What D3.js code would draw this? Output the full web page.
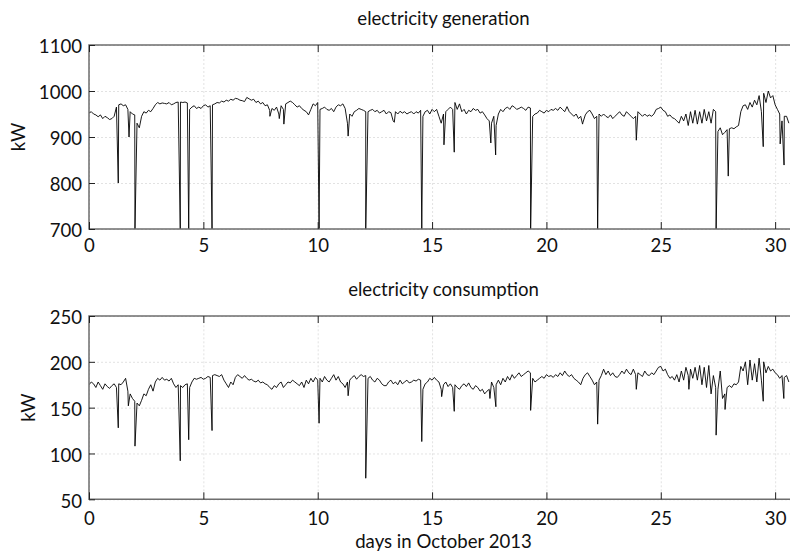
<!DOCTYPE html>
<html>
<head>
<meta charset="utf-8">
<script src="https://cdn.jsdelivr.net/npm/d3@7"></script>
<style>
  body { margin: 0; background: #fff; }
  svg { display: block; }
  text { font-family: Lato, "Open Sans", sans-serif; fill: #111; }
</style>
</head>
<body>
<div id="chart"></div>
<script>
// ! Data (one value every 0.1 day, plus the sharp drops)
var sampleDays = d3.range(0, 307).map(function (i) { return i / 10; });

var generation = [
  952, 955, 950, 948, 944, 948, 940, 945, 942, 938,
  940, 945, 965, 970, 972, 968, 970, 960, 955, 950,
  948, 930, 920, 945, 955, 952, 958, 955, 962, 970,
  975, 972, 974, 973, 972, 975, 970, 972, 975, 976,
  976, 975, 976, 974, 960, 965, 968, 962, 965, 962,
  968, 970, 965, 968, 970, 972, 975, 974, 978, 976,
  980, 978, 982, 980, 984, 983, 980, 979, 977, 986,
  983, 980, 982, 975, 978, 972, 975, 968, 970, 958,
  962, 958, 965, 950, 968, 960, 972, 975, 978, 975,
  970, 965, 968, 962, 958, 955, 948, 960, 972, 968,
  975, 960, 962, 965, 960, 958, 962, 955, 965, 970,
  968, 972, 962, 930, 950, 945, 955, 958, 962, 960,
  958, 955, 955, 958, 960, 955, 958, 952, 955, 958,
  950, 955, 953, 935, 955, 950, 956, 952, 955, 950,
  953, 955, 950, 955, 952, 958, 945, 955, 958, 950,
  960, 955, 960, 945, 930, 950, 955, 960, 965, 960,
  975, 960, 972, 955, 960, 950, 958, 955, 962, 958,
  960, 952, 955, 948, 940, 935, 930, 945, 925, 950,
  960, 955, 962, 965, 960, 968, 965, 960, 962, 965,
  962, 958, 965, 963, 945, 950, 952, 958, 955, 952,
  958, 955, 960, 958, 962, 958, 965, 960, 955, 966,
  955, 950, 945, 950, 940, 945, 932, 948, 955, 958,
  950, 940, 945, 950, 945, 950, 945, 942, 948, 940,
  945, 950, 955, 948, 945, 955, 950, 945, 940, 945,
  955, 950, 945, 950, 945, 948, 945, 950, 960, 962,
  965, 958, 955, 945, 948, 942, 940, 935, 930, 945,
  935, 950, 925, 955, 930, 958, 928, 955, 930, 960,
  935, 955, 930, 960, 955, 912, 920, 905, 910, 916,
  918, 920, 918, 922, 925, 955, 968, 970, 960, 975,
  965, 980, 970, 990, 955, 995, 975, 1000, 985, 990,
  970, 960, 950, 935, 945, 945, 930
];

var generationDropDays = [1.28, 1.75, 2.01, 3.99, 4.36, 5.38, 7.91, 8.32, 8.52, 10.06, 11.33, 12.1,
  13.35, 14.55, 15.52, 15.97, 17.57, 17.78, 19.31, 21.58, 22.24, 23.93, 27.42, 27.95, 29.48, 30.22, 30.39];
var generationDropValues = [800, 900, 700, 700, 700, 700, 945, 940, 928, 700, 902, 700,
  932, 700, 883, 867, 887, 861, 700, 928, 700, 893, 700, 815, 879, 885, 839];

var consumption = [
  175, 178, 176, 172, 178, 174, 170, 176, 173, 171,
  174, 176, 172, 176, 175, 178, 182, 168, 165, 160,
  157, 155, 152, 158, 165, 163, 170, 175, 168, 178,
  182, 180, 183, 180, 181, 179, 182, 176, 172, 175,
  174, 172, 175, 176, 172, 178, 182, 181, 182, 183,
  181, 182, 184, 183, 185, 186, 185, 184, 186, 180,
  176, 172, 178, 175, 183, 186, 184, 182, 185, 182,
  180, 181, 179, 178, 180, 177, 178, 176, 175, 172,
  170, 174, 172, 176, 178, 172, 175, 178, 177, 180,
  178, 176, 174, 178, 172, 180, 176, 182, 178, 183,
  180, 182, 178, 184, 180, 178, 182, 186, 180, 184,
  178, 176, 172, 178, 180, 183, 185, 181, 184, 186,
  184, 185, 182, 184, 180, 178, 182, 180, 176, 174,
  174, 178, 180, 176, 178, 175, 180, 176, 178, 180,
  177, 178, 180, 179, 181, 180, 170, 176, 178, 182,
  180, 183, 180, 178, 170, 175, 178, 173, 176, 172,
  175, 172, 170, 174, 176, 173, 177, 172, 170, 174,
  172, 168, 170, 165, 168, 170, 178, 172, 175, 180,
  175, 182, 178, 184, 180, 186, 182, 185, 188, 184,
  186, 188, 190, 188, 182, 178, 180, 182, 184, 182,
  186, 184, 185, 183, 186, 184, 188, 185, 190, 186,
  184, 186, 182, 180, 178, 175, 182, 186, 188, 184,
  180, 175, 178, 180, 185, 192, 186, 190, 185, 188,
  184, 183, 186, 190, 187, 192, 188, 186, 192, 186,
  188, 186, 184, 190, 186, 185, 188, 186, 190, 194,
  195, 190, 192, 186, 182, 184, 180, 186, 178, 190,
  180, 194, 185, 192, 182, 194, 180, 196, 175, 194,
  172, 196, 165, 185, 172, 170, 190, 160, 165, 172,
  174, 172, 176, 175, 178, 195, 190, 200, 175, 202,
  180, 198, 178, 204, 180, 200, 188, 195, 190, 192,
  188, 186, 182, 185, 183, 185, 178
];

var consumptionDropDays = [1.28, 1.72, 2.01, 3.99, 4.36, 5.38, 10.06, 11.33, 12.1, 14.55, 15.42, 15.97,
  17.53, 17.79, 19.31, 22.24, 23.93, 26.23, 27.42, 27.81, 29.48, 30.38];
var consumptionDropValues = [128, 152, 108, 92, 115, 125, 133, 163, 73, 113, 162, 146,
  160, 151, 147, 132, 170, 170, 120, 148, 157, 160];

var dayTicks = [0, 5, 10, 15, 20, 25, 30];
var generationTicks = [700, 800, 900, 1000, 1100];
var consumptionTicks = [50, 100, 150, 200, 250];

// ! Layout
var width = 790, height = 554;
var plot_left = 89, plot_right = 798;
var font_size = "18.6px";

var svg = d3.select("#chart")
  .append("svg")
  .attr("width", width)
  .attr("height", height);

var x = d3.scaleLinear().domain([0, 31]).range([plot_left, plot_right]);

// merge the regular samples with the sharp drops, sorted by day
function build_series(values, dropDays, dropValues) {
  var pts = sampleDays.map(function (d, i) { return { day: d, kw: values[i] }; });
  dropDays.forEach(function (d, i) { pts.push({ day: d, kw: dropValues[i] }); });
  pts.sort(function (a, b) { return a.day - b.day; });
  return pts;
}

function draw_panel(opt) {
  var top = opt.top, bottom = opt.bottom;
  var y = d3.scaleLinear().domain(opt.domain).range([bottom, top]);
  var g = svg.append("g");

  // grid
  g.append("g")
    .attr("transform", "translate(0," + bottom + ")")
    .call(d3.axisBottom(x).tickValues(dayTicks).tickSize(-(bottom - top)).tickFormat(""))
    .call(function (s) { s.select(".domain").remove(); })
    .selectAll("line")
    .attr("stroke", "#dadada")
    .attr("stroke-width", 0.8)
    .attr("stroke-dasharray", "2,2");

  g.append("g")
    .attr("transform", "translate(" + plot_left + ",0)")
    .call(d3.axisLeft(y).tickValues(opt.ticks).tickSize(-(plot_right - plot_left)).tickFormat(""))
    .call(function (s) { s.select(".domain").remove(); })
    .selectAll("line")
    .attr("stroke", "#dadada")
    .attr("stroke-width", 0.8)
    .attr("stroke-dasharray", "2,2");

  // series
  var clipId = "clip_" + opt.name;
  svg.append("clipPath").attr("id", clipId)
    .append("rect")
    .attr("x", plot_left).attr("y", top)
    .attr("width", plot_right - plot_left).attr("height", bottom - top);

  var line = d3.line()
    .x(function (d) { return x(d.day); })
    .y(function (d) { return y(d.kw); });

  g.append("path")
    .datum(opt.series)
    .attr("clip-path", "url(#" + clipId + ")")
    .attr("fill", "none")
    .attr("stroke", "#000")
    .attr("stroke-width", 0.9)
    .attr("stroke-linejoin", "round")
    .attr("d", line);

  // frame
  g.append("path")
    .attr("d", "M" + (plot_right + 1) + "," + top + "H" + plot_left + "V" + bottom + "H" + (plot_right + 1))
    .attr("fill", "none")
    .attr("stroke", "#6e6e6e")
    .attr("stroke-width", 1.5);

  // ticks
  var xb = g.append("g")
    .attr("transform", "translate(0," + bottom + ")")
    .call(d3.axisBottom(x).tickValues(dayTicks).tickSize(-7).tickPadding(opt.xpad).tickFormat(d3.format("d")));
  xb.select(".domain").remove();
  xb.selectAll("line").attr("stroke", "#222");
  xb.selectAll("text").attr("font-size", font_size).attr("font-family", "Lato, sans-serif");

  var xt = g.append("g")
    .attr("transform", "translate(0," + top + ")")
    .call(d3.axisTop(x).tickValues(dayTicks).tickSize(-7).tickFormat(""));
  xt.select(".domain").remove();
  xt.selectAll("line").attr("stroke", "#222");

  var yl = g.append("g")
    .attr("transform", "translate(" + plot_left + ",0)")
    .call(d3.axisLeft(y).tickValues(opt.ticks).tickSize(-6).tickPadding(7).tickFormat(d3.format("d")));
  yl.select(".domain").remove();
  yl.selectAll("line").attr("stroke", "#222");
  yl.selectAll("text").attr("font-size", font_size).attr("font-family", "Lato, sans-serif").attr("dy", "0.42em");

  // titles
  svg.append("text")
    .attr("x", (plot_left + plot_right) / 2)
    .attr("y", opt.titleY)
    .attr("text-anchor", "middle")
    .style("font-size", font_size)
    .text(opt.title);

  svg.append("text")
    .attr("transform", "translate(" + opt.kwX + "," + ((top + bottom) / 2) + ") rotate(-90)")
    .attr("text-anchor", "middle")
    .style("font-size", font_size)
    .text("kW");
}

draw_panel({
  name: "gen",
  top: 45, bottom: 229,
  domain: [700, 1100],
  ticks: generationTicks,
  series: build_series(generation, generationDropDays, generationDropValues),
  title: "electricity generation",
  titleY: 24.5,
  kwX: 25,
  xpad: 10
});

draw_panel({
  name: "cons",
  top: 316, bottom: 499.3,
  domain: [50, 250],
  ticks: consumptionTicks,
  series: build_series(consumption, consumptionDropDays, consumptionDropValues),
  title: "electricity consumption",
  titleY: 296,
  kwX: 35,
  xpad: 12
});

svg.append("text")
  .attr("x", (plot_left + plot_right) / 2)
  .attr("y", 548)
  .attr("text-anchor", "middle")
  .style("font-size", font_size)
  .text("days in October 2013");
</script>
</body>
</html>
